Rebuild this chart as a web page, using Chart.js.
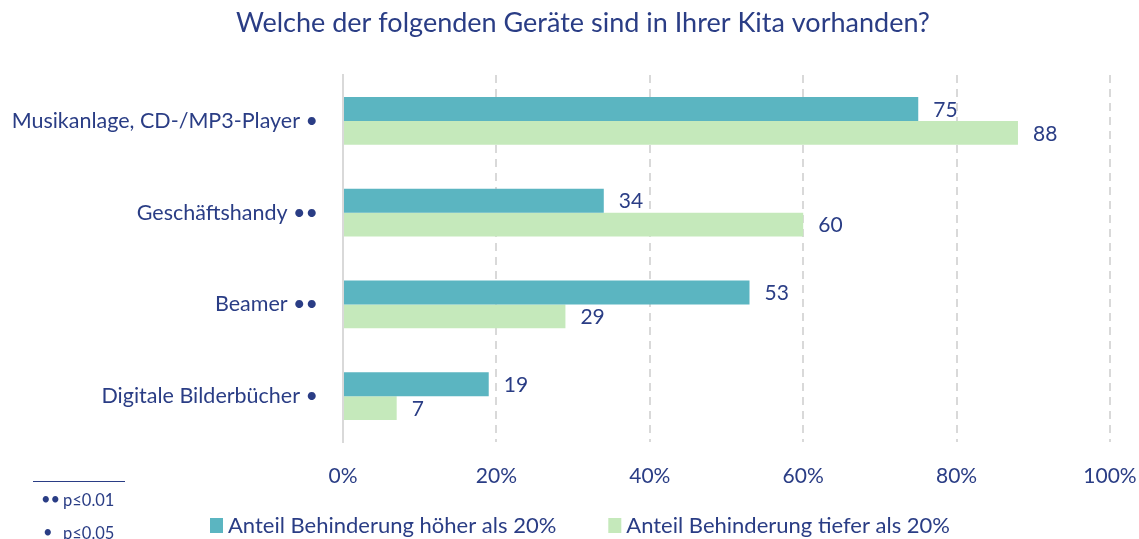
<!DOCTYPE html>
<html><head><meta charset="utf-8">
<script src="https://cdn.jsdelivr.net/npm/chart.js@4"></script>
<style>html,body{margin:0;padding:0;background:#fff}#wrap{width:1139px;height:539px}</style>
</head><body><div id="wrap"><canvas id="c" width="1139" height="539"></canvas></div>
<script>
const titleText = "Welche der folgenden Geräte sind in Ihrer Kita vorhanden?";
const categories = ["Musikanlage, CD-/MP3-Player •", "Geschäftshandy ••", "Beamer ••", "Digitale Bilderbücher •"];
const seriesNames = ["Anteil Behinderung höher als 20%", "Anteil Behinderung tiefer als 20%"];
const highValues = [75, 34, 53, 19];
const lowValues = [88, 60, 29, 7];
const xTicks = [0, 20, 40, 60, 80, 100];
const footnoteMarks = ["••", "•"];
const footnoteTexts = ["p≤0.01", "p≤0.05"];

const TEXT = "#2A3D85";
const TEAL = "#5BB5C1";
const GREEN = "#C5E9BB";
const GRID = "#D9D9D9";
const FONT = "Lato";

const extrasPlugin = {
  id: "extras",
  afterDatasetsDraw(chart) {
    const ctx = chart.ctx;
    ctx.save();
    ctx.font = "21px " + FONT;
    ctx.fillStyle = TEXT;
    ctx.textAlign = "left";
    ctx.textBaseline = "middle";
    chart.data.datasets.forEach((ds, i) => {
      chart.getDatasetMeta(i).data.forEach((bar, j) => {
        ctx.fillText(String(ds.data[j]), bar.x + 15, bar.y + 1);
      });
    });
    ctx.restore();
  },
  afterDraw(chart) {
    const ctx = chart.ctx;
    ctx.save();
    // title
    ctx.font = "27px " + FONT;
    ctx.fillStyle = TEXT;
    ctx.textAlign = "center";
    ctx.textBaseline = "middle";
    ctx.fillText(titleText, 583, 23);
    // legend
    ctx.font = "22px " + FONT;
    ctx.textAlign = "left";
    const colors = [TEAL, GREEN];
    let x = 210;
    const y = 525;
    seriesNames.forEach((name, i) => {
      ctx.fillStyle = colors[i];
      ctx.fillRect(x, y - 7, 13, 15);
      ctx.fillStyle = TEXT;
      ctx.fillText(name, x + 18, y + 1);
      x = x + 18 + ctx.measureText(name).width + 52;
    });
    // footnote
    ctx.strokeStyle = TEXT;
    ctx.lineWidth = 1;
    ctx.beginPath();
    ctx.moveTo(33, 481.5);
    ctx.lineTo(125, 481.5);
    ctx.stroke();
    ctx.font = "16.5px " + FONT;
    ctx.fillStyle = TEXT;
    ctx.fillText(footnoteMarks[0], 41, 500);
    ctx.fillText(footnoteTexts[0], 63, 501);
    ctx.fillText(footnoteMarks[1], 43, 533);
    ctx.fillText(footnoteTexts[1], 63, 534);
    ctx.restore();
  }
};

new Chart(document.getElementById("c"), {
  type: "bar",
  data: {
    labels: categories,
    datasets: [
      { label: seriesNames[0], data: highValues, backgroundColor: TEAL, categoryPercentage: 0.52, barPercentage: 1 },
      { label: seriesNames[1], data: lowValues, backgroundColor: GREEN, categoryPercentage: 0.52, barPercentage: 1 }
    ]
  },
  options: {
    indexAxis: "y",
    responsive: false,
    devicePixelRatio: 1,
    animation: false,
    layout: { padding: { left: 0, right: 29, top: 75, bottom: 52 } },
    plugins: {
      legend: { display: false },
      tooltip: { enabled: false },
      title: { display: false }
    },
    scales: {
      x: {
        min: 0, max: 100,
        afterBuildTicks: (s) => { s.ticks = xTicks.map(v => ({ value: v })); },
        afterFit: (s) => { s.height = 45; s.paddingRight = 0; s.paddingLeft = 0; },
        grid: { color: GRID, lineWidth: 2, drawTicks: false },
        border: { display: false, dash: [8, 6] },
        ticks: { color: TEXT, font: { family: FONT, size: 21 }, padding: 22, callback: (v) => v + "%" }
      },
      y: {
        afterFit: (s) => { s.width = 343; s.paddingTop = 0; s.paddingBottom = 0; },
        grid: { display: false, drawTicks: false },
        border: { display: true, color: GRID, width: 2 },
        ticks: { color: TEXT, font: { family: FONT, size: 21.5 }, padding: 25 }
      }
    }
  },
  plugins: [extrasPlugin]
});
</script></body></html>
